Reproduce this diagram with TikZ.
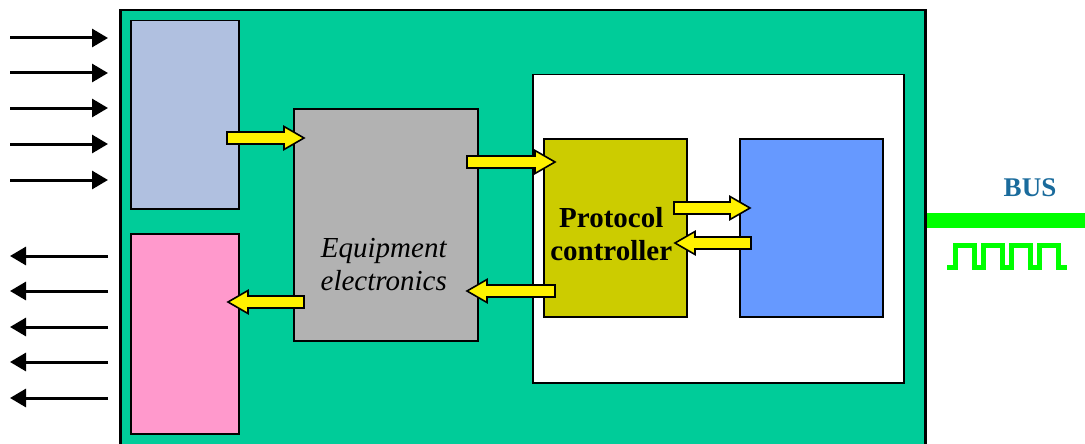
\documentclass[tikz,border=0pt]{standalone}
\usepackage{fontspec}
\setmainfont{Liberation Serif}
\usetikzlibrary{arrows.meta,calc}
\definecolor{board}{HTML}{00CC99}
\definecolor{inblue}{HTML}{B0C0E0}
\definecolor{outpink}{HTML}{FF99CC}
\definecolor{equipgray}{HTML}{B2B2B2}
\definecolor{ctrlolive}{HTML}{CCCC00}
\definecolor{hostblue}{HTML}{6699FF}
\definecolor{busgreen}{HTML}{00FF00}
\definecolor{busblue}{HTML}{1A6B9C}
\tikzset{box/.style={draw,line width=1.5pt,inner sep=0pt,anchor=north west},sig/.style={-{Triangle[length=16pt,width=18pt]},line width=3pt},yarr/.style={fill=yellow,draw=black,line width=1.6pt},wave/.style={busgreen,line width=5pt},lbl/.style={align=center,inner sep=0pt}}
% yellow block arrow from #1 to #2 (horizontal)
\newcommand{\yarrow}[2]{\filldraw[yarr] let \p1=(#1),\p2=(#2),\n1={sign(\x2-\x1)*20pt} in (\x1,\y1+6pt) -- ({\x2-\n1},\y1+6pt) -- ({\x2-\n1},\y1+11.5pt) -- (\x2,\y1) -- ({\x2-\n1},\y1-11.5pt) -- ({\x2-\n1},\y1-6pt) -- (\x1,\y1-6pt) -- cycle;}
\begin{document}
\begin{tikzpicture}[x=1pt,y=-1pt]
\useasboundingbox (0,0) rectangle (1085,444);
\node[box,fill=board,line width=2.5pt,minimum width=805pt,minimum height=445pt] (main) at (119,9) {};
\node[box,fill=inblue,minimum width=108pt,minimum height=188pt] (inbuf) at (130,20) {};
\node[box,fill=outpink,minimum width=108pt,minimum height=200pt] (outbuf) at (130,233) {};
\node[box,fill=equipgray,minimum width=184pt,minimum height=232pt] (equip) at (293,108) {};
\node[box,fill=white,minimum width=371pt,minimum height=308pt] (comm) at (532,74) {};
\node[box,fill=ctrlolive,minimum width=143pt,minimum height=178pt] (ctrl) at (543,138) {};
\node[box,fill=hostblue,minimum width=143pt,minimum height=178pt] (host) at (739,138) {};
\node[lbl,font=\itshape\fontsize{29}{33}\selectfont] (equiptxt) at ($(equip.center)+(-2,40)$) {Equipment\\electronics};
\node[lbl,font=\bfseries\fontsize{29}{33}\selectfont] (ctrltxt) at ($(ctrl.center)+(-4,6)$) {Protocol\\controller};
% signals in / out
\foreach \yy in {38,73,108,144,180} \draw[sig] (10,\yy) -- (108,\yy);
\foreach \yy in {256,291,327,362,398} \draw[sig] (108,\yy) -- (10,\yy);
% data flow
\coordinate (in1) at (227,138); \coordinate (in2) at (304,138);
\coordinate (eq1) at (467,162); \coordinate (eq2) at (555,162);
\coordinate (pc1) at (674,208); \coordinate (pc2) at (750,208);
\coordinate (hs1) at (751,243); \coordinate (hs2) at (675,243);
\coordinate (pc3) at (555,291); \coordinate (pc4) at (467,291);
\coordinate (eq3) at (304,302); \coordinate (eq4) at (228,302);
\yarrow{in1}{in2}
\yarrow{eq1}{eq2}
\yarrow{pc1}{pc2}
\yarrow{hs1}{hs2}
\yarrow{pc3}{pc4}
\yarrow{eq3}{eq4}
% bus
\node[font=\bfseries\fontsize{27}{30}\selectfont,text=busblue,inner sep=0pt] (buslbl) at (1030,188) {BUS};
\fill[busgreen] (main.east |- 0,213) rectangle (1085,228);
\draw[wave] (947,267) -- (955,267) \foreach \k in {0,...,3}{ -- (955+28*\k,245) -- (974+28*\k,245) -- (974+28*\k,267) -- (983+28*\k,267)};
\end{tikzpicture}
\end{document}
